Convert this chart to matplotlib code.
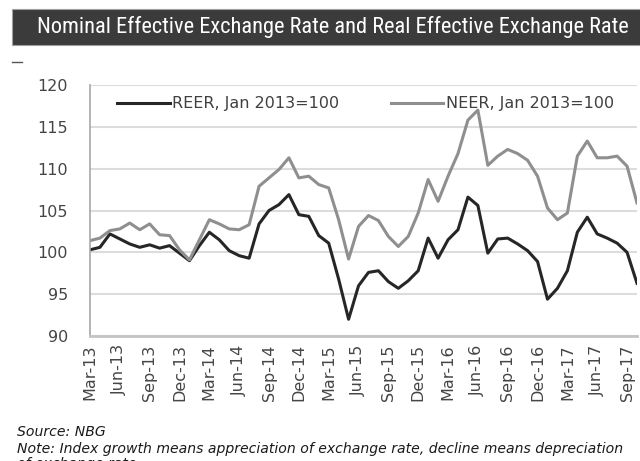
import matplotlib
matplotlib.use("Agg")
import matplotlib.pyplot as plt
from matplotlib import font_manager
from matplotlib.patches import Rectangle
from matplotlib.lines import Line2D
import pandas as pd

# monthly index values, Jan 2013 = 100
months = pd.date_range("2013-03-01", periods=56, freq="MS")
reer = [
    100.3, 100.6, 102.2, 101.6, 101.0, 100.6, 100.9, 100.5, 100.8, 99.9,
    99.0, 100.8, 102.4, 101.5, 100.2, 99.6, 99.3, 103.4, 105.0, 105.7,
    106.9, 104.5, 104.3, 102.0, 101.1, 96.8, 92.0, 96.0, 97.6, 97.8,
    96.5, 95.7, 96.6, 97.8, 101.7, 99.3, 101.5, 102.7, 106.6, 105.6,
    99.9, 101.6, 101.7, 101.0, 100.2, 98.9, 94.4, 95.7, 97.8, 102.4,
    104.2, 102.2, 101.7, 101.1, 100.0, 96.3,
]
neer = [
    101.4, 101.7, 102.6, 102.8, 103.5, 102.7, 103.4, 102.1, 102.0, 100.3,
    99.1, 101.5, 103.9, 103.4, 102.8, 102.7, 103.3, 107.9, 108.9, 109.9,
    111.3, 108.9, 109.1, 108.1, 107.7, 103.9, 99.2, 103.1, 104.4, 103.8,
    101.9, 100.7, 101.9, 104.7, 108.7, 106.1, 109.1, 111.8, 115.8, 117.0,
    110.4, 111.5, 112.3, 111.8, 111.0, 109.1, 105.3, 103.9, 104.7, 111.5,
    113.3, 111.3, 111.3, 111.5, 110.3, 105.9,
]
labels = ["REER, Jan 2013=100", "NEER, Jan 2013=100"]
title = "Nominal Effective Exchange Rate and Real Effective Exchange Rate"
source = "Source: NBG"
note = "Note: Index growth means appreciation of exchange rate, decline means depreciation"
note2 = "of exchange rate"


def pick_font(names, default="DejaVu Sans"):
    for name in names:
        try:
            font_manager.findfont(name, fallback_to_default=False)
            return name
        except ValueError:
            continue
    return default


def fit_width(fig, txt, width_px):
    # scale a text's size so it spans the given pixel width
    r = fig.canvas.get_renderer()
    w = txt.get_window_extent(r).width
    txt.set_fontsize(txt.get_fontsize() * width_px / w)


W, H = 640, 461
fig = plt.figure(figsize=(W / 100, H / 100), dpi=100)
fig.patch.set_facecolor("white")

# header bar
fig.patches.append(Rectangle((12 / W, 1 - 45 / H), 1, 36 / H, transform=fig.transFigure,
                             facecolor="#3b3b3b", edgecolor="#a0a0a0", lw=0.8))
narrow = pick_font(["Liberation Sans Narrow", "Arial Narrow", "Roboto Condensed", "Open Sans Condensed"])
t = fig.text(37 / W, 1 - 27 / H, title, color="white", fontsize=15, family=narrow,
             ha="left", va="center")
fit_width(fig, t, 591)
fig.lines.append(Line2D([12 / W, 22 / W], [1 - 62 / H, 1 - 62 / H], transform=fig.transFigure,
                        color="#555555", lw=1))

ax = fig.add_axes([90 / W, 1 - 336 / H, 547 / W, 251 / H])
x = list(range(len(months)))
ax.plot(x, reer, color="#262626", lw=2.2, label=labels[0], solid_joinstyle="round")
ax.plot(x, neer, color="#8f8f8f", lw=2.2, label=labels[1], solid_joinstyle="round")

ax.set_xlim(0, len(months) - 1)
ax.set_ylim(90, 120)
ax.set_yticks(range(90, 121, 5))
ticks = x[::3]
ax.set_xticks(ticks)
ax.set_xticklabels([months[i].strftime("%b-%y") for i in ticks], rotation=90)
ax.tick_params(axis="x", length=0, pad=6, labelsize=11.5, colors="#454545")
ax.tick_params(axis="y", length=0, pad=16, labelsize=11.5, colors="#454545")
ax.grid(axis="y", color="#dcdcdc", lw=1.5)
ax.set_axisbelow(True)
for s in ("top", "right"):
    ax.spines[s].set_visible(False)
ax.spines["left"].set_color("#a8a8a8")
ax.spines["left"].set_linewidth(1.2)
ax.spines["bottom"].set_color("#c4c4c4")
ax.spines["bottom"].set_linewidth(2)

ax.legend(loc="upper left", bbox_to_anchor=(16 / 547, 1.0), ncol=2, frameon=False,
          fontsize=11.5, handlelength=3.3, handletextpad=0.15, columnspacing=3.2,
          labelcolor="#404040", borderaxespad=0.3)

s1 = fig.text(17 / W, 1 - 432 / H, source, fontsize=11, style="italic", color="#1a1a1a",
              va="center", ha="left")
s2 = fig.text(17 / W, 1 - 449 / H, note, fontsize=11, style="italic", color="#1a1a1a",
              va="center", ha="left")
fit_width(fig, s2, 603)
s1.set_fontsize(s2.get_fontsize())
# continuation line runs off the bottom edge
fig.text(17 / W, 1 - 464 / H, note2, fontsize=s2.get_fontsize(), style="italic",
         color="#1a1a1a", va="center", ha="left")

fig.savefig("out.png", dpi=100)
